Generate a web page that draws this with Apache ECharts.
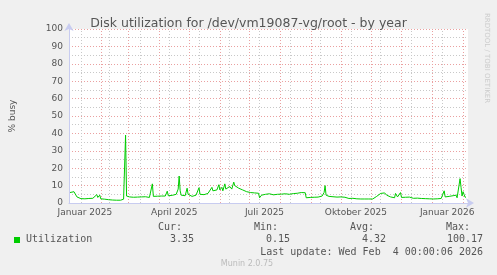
<!DOCTYPE html>
<html>
<head>
<meta charset="utf-8">
<script src="https://cdn.jsdelivr.net/npm/echarts@6/dist/echarts.min.js"></script>
<style>
html,body{margin:0;padding:0;background:#F0F0F0;}
#c{width:497px;height:275px;}
</style>
</head>
<body>
<div id="c"></div>
<script>
// day index: 1 = 1 Jan 2025
var days = [1,3,5,6,7,8,10,12,14,16,18,20,22,24,26,28,29,30,31,32,34,36,38,40,42,44,46,48,50,52,54,55,56,57,58,59,61,63,65,67,69,71,73,75,77,79,81,83,84,85,87,89,91,93,95,97,99,100,102,104,106,108,110,111,112,113,115,117,119,120,122,124,126,128,130,131,132,134,136,138,140,142,144,145,147,149,151,152,154,155,157,158,160,162,164,166,167,169,171,173,175,177,179,181,183,185,187,189,191,192,193,194,196,198,200,202,204,206,208,210,212,214,216,218,220,222,224,226,228,230,232,234,236,238,239,241,243,245,247,249,251,253,255,257,258,259,260,262,264,266,268,270,272,274,276,278,280,282,284,286,288,290,292,294,296,298,300,302,304,306,308,310,312,314,316,318,320,322,324,326,328,329,331,333,334,335,337,339,341,343,345,347,349,351,353,355,357,359,361,363,365,367,369,371,373,375,377,378,379,381,383,385,387,389,390,391,392,393,394,395,396,397,398,399,400];
var busy = [6.0,6.2,6.5,7.0,6.8,3.5,2.8,2.5,2.6,2.4,2.7,2.6,2.9,2.7,3.0,4.8,3.2,2.8,4.5,2.4,1.8,2.2,1.7,1.9,1.6,1.7,1.5,1.6,1.7,1.6,1.9,2.2,2.0,39,4.0,3.2,3.5,3.0,3.3,2.9,3.4,3.2,3.5,3.3,3.6,3.4,3.2,3.8,11,3.8,3.5,3.9,3.6,4.0,4.3,4.0,6.8,4.2,4.0,4.4,4.5,5.0,8.0,15.5,7.0,4.5,4.0,4.2,8.5,5.0,4.0,3.8,4.2,4.5,5.5,8.8,5.0,4.6,4.8,5.0,5.5,6.5,9.0,7.0,6.2,7.5,10.5,7.5,9.0,7.0,11,8.0,7.0,9.5,8.0,12,10,9.0,8.5,9.0,7.5,8.0,6.5,7.0,6.0,6.2,5.8,5.5,5.6,3.0,2.5,4.5,5.2,5.0,4.8,5.3,5.0,4.7,5.2,5.0,5.4,5.1,4.9,5.3,5.2,5.0,5.5,5.4,5.2,5.6,5.8,6.0,6.1,5.9,3.0,2.8,3.2,2.9,3.3,3.0,3.4,3.1,4.0,6.0,10.0,4.5,3.5,3.8,3.4,3.6,3.9,3.4,3.8,3.5,3.0,3.3,2.8,2.6,2.9,2.7,2.5,2.4,2.3,2.3,2.3,2.3,2.3,2.3,2.3,2.3,2.4,3.8,4.8,5.5,5.0,5.8,4.5,5.2,3.5,4.6,3.0,5.5,3.5,4.0,6.0,3.2,2.8,3.3,2.9,3.4,3.1,2.7,3.2,2.8,3.0,2.6,2.8,2.5,2.6,2.4,2.5,2.3,2.6,2.4,2.7,2.6,3.2,7.0,3.5,3.3,3.8,3.4,4.2,3.5,4.5,3.0,2.8,3.5,14.0,9.0,4.0,6.5,5.0,3.35,3.35];
// month starts (day index) - major grid
var monthStarts = [32,60,91,121,152,182,213,244,274,305,335,366,397];
// minor grid (day index)
var minorDays = [12,41,72,101,131,161,192,223,253,284,314,345,376];
// x tick labels (centered mid-month)
var tickPos = [16,106,197,289,381];
var tickLabels = ['Januar 2025','April 2025','Juli 2025','Oktober 2025','Januar 2026'];

var title = 'Disk utilization for /dev/vm19087-vg/root - by year';
var legendRows = {name:'Utilization', cur:'3.35', min:'0.15', avg:'4.32', max:'100.17'};

var chart = echarts.init(document.getElementById('c'), null, {renderer:'canvas'});
var pts = days.map(function(d,i){return [d, busy[i]];});
var mono = '10px "DejaVu Sans Mono"';
var txtCol = '#555555';
function T(x,y,text,align,font,fill,rot){
  return {type:'text', x:x, y:y, rotation:rot||0, silent:true, style:{text:text, font:font||mono, fill:fill||txtCol, textAlign:align||'left', textVerticalAlign:'middle'}};
}
var vlines = minorDays.map(function(d){return {xAxis:d, lineStyle:{color:'#c8c8c8', type:[1,2], width:1}};})
  .concat(monthStarts.map(function(d){return {xAxis:d, lineStyle:{color:'#eaa0a0', type:[1,2], width:1}};}));
chart.setOption({
  backgroundColor:'#F0F0F0',
  animation:false,
  title:{text:title, left:'center', top:12, textStyle:{fontFamily:'DejaVu Sans', fontSize:12.5, fontWeight:'normal', color:txtCol}},
  grid:{left:66, right:29, top:29, bottom:72, show:true, backgroundColor:'#ffffff', borderWidth:0},
  xAxis:{type:'value', min:0, max:402,
    axisLine:{show:true, lineStyle:{color:'#c8ccf0', width:1}, symbol:['none','arrow'], symbolSize:[7,8], symbolOffset:[0,6]},
    axisTick:{show:false},
    axisLabel:{customValues:tickPos, formatter:function(v){var i=tickPos.indexOf(v);return i>=0?tickLabels[i]:'';}, fontFamily:'DejaVu Sans', fontSize:9, color:txtCol, margin:5},
    splitLine:{show:false}},
  yAxis:{type:'value', min:0, max:100, interval:10,
    name:'% busy', nameLocation:'middle', nameGap:52, nameTextStyle:{fontFamily:'DejaVu Sans', fontSize:9, color:txtCol},
    axisLine:{show:true, lineStyle:{color:'#c8ccf0', width:1}, symbol:['none','arrow'], symbolSize:[7,8], symbolOffset:[0,6]},
    axisTick:{show:false},
    axisLabel:{fontFamily:'DejaVu Sans', fontSize:9, color:txtCol, margin:6},
    splitLine:{show:true, lineStyle:{color:'#eaa0a0', type:[1,2], width:1}},
    minorTick:{show:false, splitNumber:2},
    minorSplitLine:{show:true, lineStyle:{color:'#c8c8c8', type:[1,2], width:1}}},
  series:[{type:'line', data:pts, showSymbol:false, z:5, lineStyle:{color:'#00CC00', width:1}, itemStyle:{color:'#00CC00'}, silent:true,
    markLine:{silent:true, z:1, symbol:['none','none'], label:{show:false}, data:vlines}}],
  graphic:[
    T(487, 58, 'RRDTOOL / TOBI OETIKER', 'center', '7px "DejaVu Sans"', '#cccccc', -Math.PI/2),
    T(182, 227, 'Cur:', 'right'),
    T(278, 227, 'Min:', 'right'),
    T(374, 227, 'Avg:', 'right'),
    T(470, 227, 'Max:', 'right'),
    {type:'rect', shape:{x:14, y:237, width:6, height:6}, style:{fill:'#00CC00'}, silent:true},
    T(26, 239, legendRows.name, 'left'),
    T(194, 239, legendRows.cur, 'right'),
    T(290, 239, legendRows.min, 'right'),
    T(386, 239, legendRows.avg, 'right'),
    T(483, 239, legendRows.max, 'right'),
    T(483, 252, 'Last update: Wed Feb  4 00:00:06 2026', 'right'),
    T(247, 264, 'Munin 2.0.75', 'center', '8px "DejaVu Sans"', '#bbbbbb')
  ]
});
</script>
</body>
</html>
